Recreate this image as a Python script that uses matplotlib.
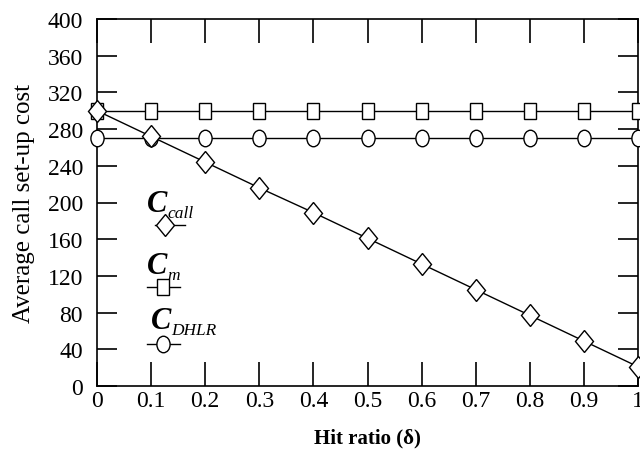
import matplotlib
matplotlib.use("Agg")
import matplotlib.pyplot as plt
from matplotlib.lines import Line2D
from matplotlib.markers import MarkerStyle
from matplotlib.transforms import Affine2D

plt.rcParams["font.family"] = ["Liberation Serif", "DejaVu Serif"]

# data
hit_ratio = [0, 0.1, 0.2, 0.3, 0.4, 0.5, 0.6, 0.7, 0.8, 0.9, 1.0]
c_call = [300, 272, 244, 216, 189, 161, 133, 105, 77, 49, 21]
c_m = [300, 300, 300, 300, 300, 300, 300, 300, 300, 300, 300]
c_dhlr = [270, 270, 270, 270, 270, 270, 270, 270, 270, 270, 270]
x_ticks = [0, 0.1, 0.2, 0.3, 0.4, 0.5, 0.6, 0.7, 0.8, 0.9, 1]
x_labels = ["0", "0.1", "0.2", "0.3", "0.4", "0.5", "0.6", "0.7", "0.8", "0.9", "1"]
y_ticks = list(range(0, 401, 40))


def tall(m):
    # the original figure is stretched a little vertically
    return MarkerStyle(m, transform=Affine2D().scale(1, 1.25))


fig = plt.figure(figsize=(6.4, 4.56), dpi=100)
ax = fig.add_axes([97 / 640, 1 - 387 / 456, 541 / 640, 367 / 456])

style = dict(color="black", lw=1.0, mfc="white", mec="black", mew=1.0, clip_on=False)
ax.plot(hit_ratio, c_m, marker=tall("s"), ms=9, zorder=3, **style)
ax.plot(hit_ratio, c_dhlr, marker=tall("o"), ms=9.5, zorder=3, **style)
ax.plot(hit_ratio, c_call, marker=tall("D"), ms=9, zorder=4, **style)

ax.set_xlim(0, 1)
ax.set_ylim(0, 400)
ax.set_xticks(x_ticks)
ax.set_xticklabels(x_labels)
ax.set_yticks(y_ticks)
ax.tick_params(axis="both", direction="in", labelsize=17, width=1.2,
               top=True, right=True, colors="black")
ax.tick_params(axis="y", length=14.5, pad=10)
ax.tick_params(axis="x", length=17, pad=3)
for sp in ax.spines.values():
    sp.set_linewidth(1.2)

ax.set_ylabel("Average call set-up cost", fontsize=18, labelpad=9)
ax.set_xlabel("Hit ratio (δ)", fontsize=15, fontweight="bold", labelpad=12)

# hand-placed legend, as in the original figure
legend = [
    ("call", "D", 9, 0.092, 0.458, 0.107, 0.163, 0.126, 0.439),
    ("m", "s", 9, 0.093, 0.288, 0.092, 0.153, 0.122, 0.270),
    ("DHLR", "o", 9.5, 0.100, 0.138, 0.092, 0.153, 0.122, 0.114),
]
for sub, mk, ms, tx, ty, lx0, lx1, mx, ly in legend:
    c = ax.text(tx, ty, "C", transform=ax.transAxes, fontsize=22, fontweight="bold",
                fontstyle="italic", va="bottom", ha="left")
    ax.annotate(sub, xy=(1, 0), xycoords=c, xytext=(0, 1), textcoords="offset points",
                fontsize=12.5, fontstyle="italic", va="baseline", ha="left")
    ax.add_line(Line2D([lx0, lx1], [ly, ly], color="black", lw=1.0,
                       transform=ax.transAxes))
    ax.add_line(Line2D([mx], [ly], marker=tall(mk), ms=ms, mfc="white", mec="black",
                       mew=1.0, transform=ax.transAxes))

fig.savefig("out.png", dpi=100)
